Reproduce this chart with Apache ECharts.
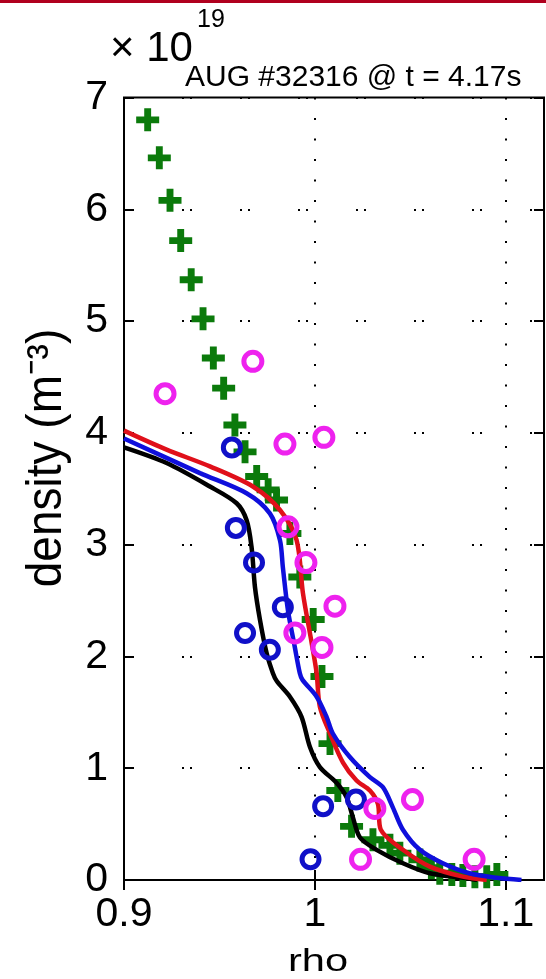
<!DOCTYPE html>
<html>
<head>
<meta charset="utf-8">
<script src="https://cdn.jsdelivr.net/npm/echarts@6/dist/echarts.min.js"></script>
<style>
html,body{margin:0;padding:0;background:#fff;}
#chart{width:546px;height:979px;}
</style>
</head>
<body>
<div id="chart"></div>
<script>
// ---- data (density in units of 1e19 m^-3) ----
const xTicks = [0.9, 1, 1.1];
const yTicks = [0, 1, 2, 3, 4, 5, 6, 7];

const plusRho = [0.9124,0.9185,0.9241,0.9297,0.9352,0.9414,0.9468,0.9522,0.9581,0.9634,0.9695,0.9755,0.9799,0.9869,0.9921,0.9991,1.0037,1.0079,1.0120,1.0192,1.0304,1.0393,1.0445,1.0550,1.0610,1.0654,1.0717,1.0775,1.0838,1.0900,1.0953];
const plusDen = [6.80,6.46,6.08,5.72,5.37,5.02,4.67,4.40,4.07,3.83,3.61,3.49,3.40,3.10,2.71,2.33,1.82,1.22,0.80,0.48,0.36,0.31,0.24,0.18,0.11,0.06,0.05,0.04,0.03,0.03,0.05];

const blueCircRho = [0.9565,0.9586,0.9681,0.9832,0.9634,0.9764,1.0043,0.9977,1.0215];
const blueCircDen = [3.87,3.15,2.84,2.44,2.21,2.06,0.66,0.185,0.72];

const magCircRho = [0.9675,0.9215,0.9843,1.0047,0.9859,0.9953,1.0105,0.9895,1.0037,1.0314,1.0511,1.0239,1.0834];
const magCircDen = [4.64,4.35,3.90,3.96,3.16,2.84,2.45,2.21,2.08,0.64,0.72,0.185,0.185];

const redRho = [0.900,0.9223,0.945,0.9675,0.9817,0.9904,0.9937,0.9983,1.0009,1.0026,1.0079,1.0147,1.0218,1.0288,1.0330,1.0345,1.0461,1.0602,1.0775,1.0900];
const redDen = [4.02,3.85,3.70,3.52,3.31,3.04,2.57,2.12,1.85,1.55,1.31,1.05,0.89,0.80,0.68,0.45,0.27,0.12,0.03,0.0];

const blueRho = [0.900,0.9398,0.9642,0.9764,0.9817,0.9832,0.9859,0.9895,0.9921,0.9935,1.0009,1.0061,1.0094,1.0183,1.0288,1.0356,1.0408,1.0461,1.0550,1.0670,1.0810,1.0953,1.1082];
const blueDen = [3.95,3.64,3.46,3.28,3.04,2.80,2.41,2.08,1.85,1.79,1.64,1.46,1.31,1.10,0.92,0.83,0.65,0.45,0.27,0.15,0.06,0.02,0.0];

const blackRho = [0.900,0.9223,0.945,0.959,0.9642,0.9668,0.9686,0.9712,0.9747,0.9780,0.9800,0.9869,0.9930,0.9974,1.0026,1.0113,1.0166,1.0199,1.0236,1.0323,1.0461,1.0602,1.0775,1.0850];
const blackDen = [3.87,3.73,3.52,3.37,3.22,2.98,2.62,2.33,2.03,1.85,1.78,1.64,1.46,1.19,1.01,0.87,0.74,0.56,0.38,0.27,0.15,0.06,0.02,0.0];

const zip = (a, b) => a.map((v, i) => [v, b[i]]);

const FONT = 'Liberation Sans, Arial, sans-serif';
const plusPath = 'path://M2.8,0H5.2V2.8H8V5.2H5.2V8H2.8V5.2H0V2.8H2.8Z';

const chart = echarts.init(document.getElementById('chart'), null, {renderer: 'canvas'});

const lineSeries = (name, rho, den, color) => ({
  name, type: 'line', data: zip(rho, den), showSymbol: false, smooth: 0.3,
  lineStyle: {color, width: 4.5, opacity: 1}, xAxisIndex: 0, yAxisIndex: 0, z: 3
});

chart.setOption({
  animation: false,
  backgroundColor: '#fff',
  grid: {left: 124, right: 2, top: 97.5, bottom: 99, show: true,
         borderColor: '#000', borderWidth: 2, backgroundColor: '#fff'},
  xAxis: [{
    type: 'value', min: 0.9, max: 1.12, position: 'bottom',
    axisLine: {show: false},
    axisTick: {inside: true, length: 10, customValues: xTicks, lineStyle: {color: '#000', width: 2}},
    axisLabel: {customValues: xTicks, fontFamily: FONT, fontSize: 41, color: '#000', margin: 14},
    splitLine: {show: true, lineStyle: {color: '#000', width: 2, type: [2, 18.5]}}
  }, {
    type: 'value', min: 0.9, max: 1.12, position: 'top',
    axisLine: {show: false},
    axisTick: {inside: true, length: 10, customValues: xTicks, lineStyle: {color: '#000', width: 2}},
    axisLabel: {show: false}, splitLine: {show: false}
  }],
  yAxis: [{
    type: 'value', min: 0, max: 7, interval: 1, position: 'left',
    axisLine: {show: false},
    axisTick: {inside: true, length: 10, lineStyle: {color: '#000', width: 2}},
    axisLabel: {fontFamily: FONT, fontSize: 41, color: '#000', margin: 16, padding: [0, 0, 10, 0]},
    splitLine: {show: true, lineStyle: {color: '#000', width: 2, type: [2, 6, 2, 48]}}
  }, {
    type: 'value', min: 0, max: 7, interval: 1, position: 'right',
    axisLine: {show: false},
    axisTick: {inside: true, length: 10, lineStyle: {color: '#000', width: 2}},
    axisLabel: {show: false}, splitLine: {show: false}
  }],
  series: [
    {name: 'plus', type: 'scatter', data: zip(plusRho, plusDen), symbol: plusPath, symbolSize: 23,
     itemStyle: {color: '#0b7a0b', opacity: 1}, clip: false, z: 2},
    lineSeries('black', blackRho, blackDen, '#000000'),
    lineSeries('red', redRho, redDen, '#e0101a'),
    lineSeries('blue', blueRho, blueDen, '#0f0fdc'),
    {name: 'bluecirc', type: 'scatter', data: zip(blueCircRho, blueCircDen), symbol: 'circle', symbolSize: 17,
     itemStyle: {color: 'rgba(0,0,0,0)', borderColor: '#1010c8', borderWidth: 5, opacity: 1}, clip: false, z: 4},
    {name: 'magcirc', type: 'scatter', data: zip(magCircRho, magCircDen), symbol: 'circle', symbolSize: 18,
     itemStyle: {color: 'rgba(0,0,0,0)', borderColor: '#ee22ee', borderWidth: 5, opacity: 1}, clip: false, z: 5}
  ],
  graphic: [
    {type: 'rect', left: 0, top: 0, z: 100, shape: {width: 546, height: 3}, style: {fill: '#b0001e'}},
    {type: 'text', x: 185, y: 77.5, z: 100, style: {text: 'AUG #32316 @ t = 4.17s', font: '30px ' + FONT, fill: '#000', align: 'left', verticalAlign: 'middle'}},
    {type: 'text', x: 110, y: 49, z: 100, style: {text: '\u00d7 10', font: '42px ' + FONT, fill: '#000', align: 'left', verticalAlign: 'middle'}},
    {type: 'text', x: 197, y: 20, z: 100, style: {text: '19', font: '25px ' + FONT, fill: '#000', align: 'left', verticalAlign: 'middle'}},
    {type: 'text', x: 318, y: 962, z: 100, scaleX: 1.3, style: {text: 'rho', font: '32px ' + FONT, fill: '#000', align: 'center', verticalAlign: 'middle'}},
    {type: 'text', x: 47, y: 458, z: 100, rotation: Math.PI / 2, scaleX: 0.92, style: {text: 'density (m\u207b\u00b3)', font: '50px ' + FONT, fill: '#000', align: 'center', verticalAlign: 'middle'}}
  ]
});
</script>
</body>
</html>
